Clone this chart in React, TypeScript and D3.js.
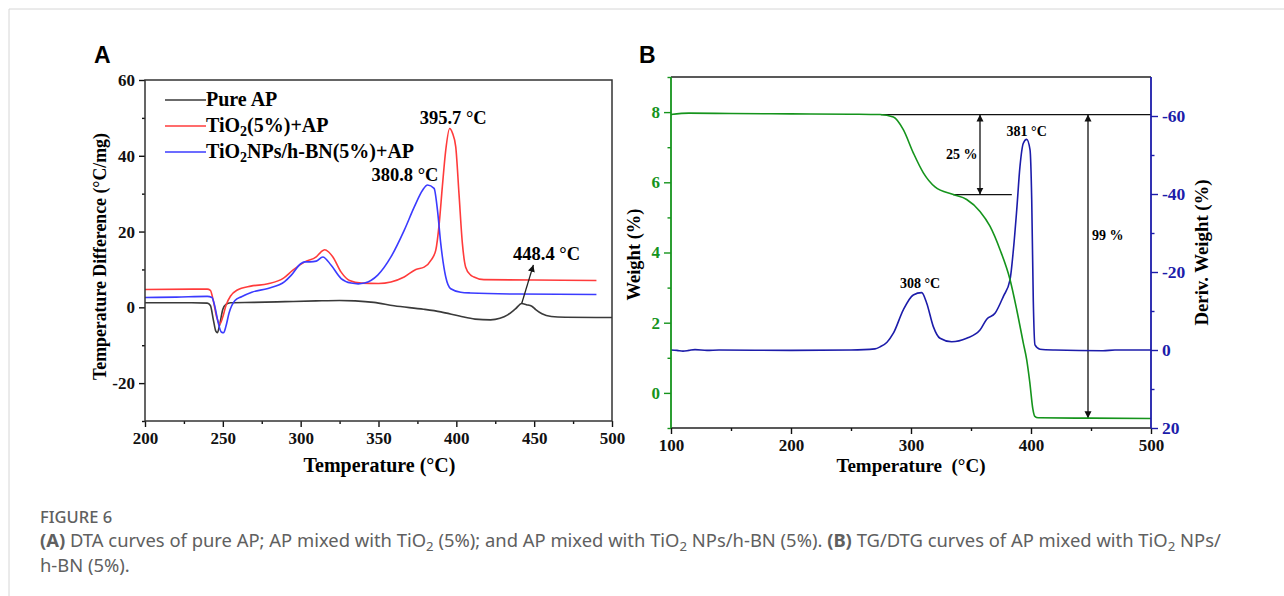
import { useEffect, useRef } from 'react';
import * as d3 from 'd3';

// ---- Panel A: DTA curves (temperature °C, temperature difference °C/mg)
const pureAP: [number, number][] = [
  [200, 1.2], [230, 1.2], [240, 1.1], [242, 0.5], [244, -3.5], [245.5, -6.3], [246.5, -6.7], [248, -4.5],
  [250, -0.5], [252, 0.8], [255, 1.2], [270, 1.3], [290, 1.5], [310, 1.7], [325, 1.8], [335, 1.7],
  [347, 1.3], [360, 0.4], [379, -0.5], [390, -1.2], [402, -2.3], [412, -3.1], [422, -3.3], [428, -2.9],
  [433, -2.0], [438, -0.4], [442, 1.0], [445, 0.7], [448.5, 0.3], [451, -0.6], [455, -1.7], [461, -2.4],
  [470, -2.6], [500, -2.7],
];
const tio2AP: [number, number][] = [
  [200, 4.7], [240, 4.8], [242, 4.5], [244, 1.5], [246, -2.5], [248, -4.4], [250, -2.5], [252, 0.5],
  [255, 3], [259, 4.5], [268, 5.6], [279, 6.2], [289, 7.7], [295, 9.8], [302.6, 12], [310, 13.3],
  [313, 14.6], [315.4, 15.2], [318, 14.6], [320.7, 13.3], [326, 9.3], [331.4, 7.1], [339, 6.4], [350, 6.3],
  [358, 6.7], [366.5, 8], [374, 10], [379.3, 10.6], [384, 12.6], [386.8, 15.1], [389, 22.1], [391, 31.8],
  [393.2, 41.5], [395.7, 47.2], [397.5, 46], [399.6, 42.4], [401.7, 30], [403.9, 16.8], [406, 10.6],
  [409.2, 8.5], [411.3, 8], [417.7, 7.3], [450, 7.2], [490, 7.1],
];
const tio2BnAP: [number, number][] = [
  [200, 2.6], [220, 2.7], [240, 2.9], [243, 2.6], [245, 0], [247, -4], [249, -6.5], [250.5, -6.7],
  [252, -5], [254, -1.5], [257.8, 1.8], [262, 2.8], [268.6, 4.0], [279, 5.0], [289.7, 6.8], [294, 8.5],
  [300, 11.5], [302.6, 12], [306, 12], [310, 12.2], [314.2, 13.3], [319.6, 11.1], [326, 7.6], [332.4, 6.4],
  [337, 6.2], [341, 6.4], [349.5, 8.5], [358, 13.3], [366.5, 20.3], [373, 26.5], [378.3, 30.9],
  [381.5, 32.3], [385.7, 31.4], [387.9, 25.6], [390, 16.8], [393.2, 8], [396.4, 4.9], [402.8, 4],
  [409, 3.8], [440, 3.5], [490, 3.4],
];
const legendA = ['Pure AP', 'TiO|2|(5%)+AP', 'TiO|2|NPs/h-BN(5%)+AP'];
const peakLabelsA = [
  { text: '395.7 °C', t: 398, v: 50.1 },
  { text: '380.8 °C', t: 367, v: 34.9 },
];
const arrowA = { text: '448.4 °C', fromT: 442, fromV: 1.0, toT: 449.5, toV: 11.2, labelT: 458, labelV: 14.2 };
const xTicksA = [200, 250, 300, 350, 400, 450, 500];
const yTicksA = [-20, 0, 20, 40, 60];

// ---- Panel B: TG (weight %) and DTG (deriv. weight %)
const weight: [number, number][] = [
  [100, 7.93], [115, 7.97], [150, 7.96], [200, 7.95], [250, 7.94], [274, 7.93], [285.3, 7.86], [293.6, 7.5],
  [301.9, 6.84], [310.3, 6.27], [320, 5.87], [335.3, 5.65], [346.4, 5.51], [357.5, 5.17], [365.8, 4.75],
  [374.2, 4.08], [382.5, 3.23], [388.1, 2.37], [393.6, 1.42], [396.4, 0.95], [399, 0.3], [401.5, -0.45],
  [403, -0.66], [406, -0.71], [450, -0.72], [500, -0.73],
];
const derivWeight: [number, number][] = [
  [100, 0], [105, 0.1], [110, 0.3], [115, 0.1], [120, -0.1], [130, 0.1], [140, 0], [200, 0.1], [250, 0],
  [270, -0.3], [274.2, -0.8], [280, -2], [285.3, -4.3], [293.6, -10.3], [301.9, -14.1], [308.9, -14.7],
  [313.1, -12], [318.6, -6], [324.2, -3], [333.9, -2.1], [346.4, -3], [357.5, -5.1], [363.1, -7.9],
  [370, -9.4], [376.9, -13.7], [382.5, -18], [385.3, -25.6], [388.1, -35.9], [390.8, -47], [393.6, -53],
  [396.4, -54], [399.2, -51.3], [400.6, -38.5], [401.9, -12.8], [403.3, -1.3], [407.5, -0.2], [420, 0],
  [460, 0.2], [470, 0], [500, 0],
];
const lossArrows = [
  { text: '25 %', t: 357.5, top: 7.93, bottom: 5.65, lineFrom: 335, lineTo: 384, labelT: 342.3, labelW: 6.8 },
  { text: '99 %', t: 447.5, top: 7.93, bottom: -0.72, lineFrom: 447.5, lineTo: 447.5, labelT: 464, labelW: 4.5 },
];
const peakLabelsB = [
  { text: '381 °C', t: 396.4, d: -56.2 },
  { text: '308 °C', t: 307.5, d: -17.3 },
];
const xTicksB = [100, 200, 300, 400, 500];
const yTicksWeight = [0, 2, 4, 6, 8];
const yTicksDeriv = [-60, -40, -20, 0, 20];

const SERIF = "'Liberation Serif', 'Times New Roman', serif";
const C = {
  frame: '#333',
  black: '#3a3a3a',
  red: '#ff3b3b',
  blue: '#3b3bff',
  green: '#15941c',
  navy: '#1c1caa',
  caption: '#606060',
};
const plain = (d: any) => String(d);

function styleAxis(g: any, color: string, size: number) {
  g.select('.domain').remove();
  g.selectAll('line').attr('stroke', color).attr('stroke-width', 1.4);
  g.selectAll('text').attr('fill', color).style('font-family', SERIF)
    .style('font-weight', 'bold').style('font-size', `${size}px`);
}

function addSubText(sel: any, spec: string) {
  // "a|b|c" -> a, subscript b, c
  spec.split('|').forEach((part, i) => {
    const t = sel.append('tspan').text(part);
    if (i % 2 === 1) t.attr('dy', 4).style('font-size', '70%');
    if (i > 0 && i % 2 === 0) t.attr('dy', -4);
  });
}

export default function App() {
  const ref = useRef<SVGSVGElement | null>(null);

  useEffect(() => {
    const svg = d3.select(ref.current);
    svg.selectAll('*').remove();

    const defs = svg.append('defs');
    defs.append('marker').attr('id', 'head').attr('viewBox', '0 0 10 10')
      .attr('refX', 10).attr('refY', 5).attr('markerWidth', 7).attr('markerHeight', 9)
      .attr('markerUnits', 'userSpaceOnUse').attr('orient', 'auto-start-reverse')
      .append('path').attr('d', 'M0,0 L10,5 L0,10 Z').attr('fill', '#111');

    // card border
    svg.append('path').attr('d', 'M9,596 V9 H1284').attr('fill', 'none').attr('stroke', '#d6d6d6');

    // ================= Panel A =================
    const A = { l: 145, r: 612, t: 80, b: 421 };
    const xA = d3.scaleLinear().domain([200, 500]).range([A.l, A.r]);
    const yA = d3.scaleLinear().domain([-30, 60]).range([A.b, A.t]);
    const gA = svg.append('g');

    svg.append('text').attr('x', 94).attr('y', 63).text('A')
      .style('font-family', "'Liberation Sans', Arial, sans-serif").style('font-weight', 'bold').style('font-size', '23px');

    const lineA = d3.line<[number, number]>().x(d => xA(d[0])).y(d => yA(d[1])).curve(d3.curveMonotoneX);
    [[pureAP, C.black], [tio2AP, C.red], [tio2BnAP, C.blue]].forEach(([data, col]) => {
      gA.append('path').datum(data as [number, number][]).attr('d', lineA)
        .attr('fill', 'none').attr('stroke', col as string).attr('stroke-width', 1.6);
    });

    const axBA = gA.append('g').attr('transform', `translate(0,${A.b})`)
      .call(d3.axisBottom(xA).tickValues(xTicksA).tickSize(6).tickPadding(5).tickFormat(plain));
    styleAxis(axBA, '#111', 17);
    const axBAm = gA.append('g').attr('transform', `translate(0,${A.b})`)
      .call(d3.axisBottom(xA).tickValues(d3.range(225, 500, 50)).tickSize(3).tickFormat(() => ''));
    styleAxis(axBAm, '#111', 17);
    const axLA = gA.append('g').attr('transform', `translate(${A.l},0)`)
      .call(d3.axisLeft(yA).tickValues(yTicksA).tickSize(6).tickPadding(4).tickFormat(plain));
    styleAxis(axLA, '#111', 17);
    const axLAm = gA.append('g').attr('transform', `translate(${A.l},0)`)
      .call(d3.axisLeft(yA).tickValues([-30, -10, 10, 30, 50]).tickSize(3).tickFormat(() => ''));
    styleAxis(axLAm, '#111', 17);
    gA.append('rect').attr('x', A.l).attr('y', A.t).attr('width', A.r - A.l).attr('height', A.b - A.t)
      .attr('fill', 'none').attr('stroke', C.frame).attr('stroke-width', 1.5);

    gA.append('text').attr('x', (A.l + A.r) / 2 + 1).attr('y', 472).attr('text-anchor', 'middle')
      .style('font-family', SERIF).style('font-weight', 'bold').style('font-size', '20px')
      .text('Temperature (°C)');
    gA.append('text').attr('transform', `translate(106,${(A.t + A.b) / 2 + 6}) rotate(-90)`)
      .attr('text-anchor', 'middle')
      .style('font-family', SERIF).style('font-weight', 'bold').style('font-size', '17.8px')
      .text('Temperature Difference (°C/mg)');

    // legend
    const legCols = [C.black, C.red, C.blue];
    legendA.forEach((label, i) => {
      const yy = 100 + i * 26;
      gA.append('line').attr('x1', 165).attr('x2', 206).attr('y1', yy).attr('y2', yy)
        .attr('stroke', legCols[i]).attr('stroke-width', 1.6);
      const t = gA.append('text').attr('x', 206).attr('y', yy + 6)
        .style('font-family', SERIF).style('font-weight', 'bold').style('font-size', '20px');
      addSubText(t, label);
    });

    peakLabelsA.forEach(p => {
      gA.append('text').attr('x', xA(p.t)).attr('y', yA(p.v) + 6).attr('text-anchor', 'middle')
        .style('font-family', SERIF).style('font-weight', 'bold').style('font-size', '18.5px').text(p.text);
    });
    gA.append('line').attr('x1', xA(arrowA.fromT)).attr('y1', yA(arrowA.fromV))
      .attr('x2', xA(arrowA.toT)).attr('y2', yA(arrowA.toV))
      .attr('stroke', '#222').attr('stroke-width', 1.3).attr('marker-end', 'url(#head)');
    gA.append('text').attr('x', xA(arrowA.labelT)).attr('y', yA(arrowA.labelV) + 6).attr('text-anchor', 'middle')
      .style('font-family', SERIF).style('font-weight', 'bold').style('font-size', '18.5px').text(arrowA.text);

    // ================= Panel B =================
    const B = { l: 671, r: 1151, t: 77, b: 428 };
    const xB = d3.scaleLinear().domain([100, 500]).range([B.l, B.r]);
    const yW = d3.scaleLinear().domain([-1, 9]).range([B.b, B.t]);
    const yD = d3.scaleLinear().domain([20, -70]).range([B.b, B.t]);
    const gB = svg.append('g');

    svg.append('text').attr('x', 639).attr('y', 63).text('B')
      .style('font-family', "'Liberation Sans', Arial, sans-serif").style('font-weight', 'bold').style('font-size', '23px');

    // reference lines + arrows
    gB.append('line').attr('x1', xB(275)).attr('x2', B.r).attr('y1', yW(7.93)).attr('y2', yW(7.93))
      .attr('stroke', '#111').attr('stroke-width', 1.3);
    lossArrows.forEach(a => {
      if (a.lineTo > a.lineFrom) {
        gB.append('line').attr('x1', xB(a.lineFrom)).attr('x2', xB(a.lineTo))
          .attr('y1', yW(a.bottom)).attr('y2', yW(a.bottom)).attr('stroke', '#111').attr('stroke-width', 1.3);
      }
      gB.append('line').attr('x1', xB(a.t)).attr('x2', xB(a.t)).attr('y1', yW(a.top)).attr('y2', yW(a.bottom))
        .attr('stroke', '#111').attr('stroke-width', 1.3)
        .attr('marker-start', 'url(#head)').attr('marker-end', 'url(#head)');
      gB.append('text').attr('x', xB(a.labelT)).attr('y', yW(a.labelW) + 5).attr('text-anchor', 'middle')
        .style('font-family', SERIF).style('font-weight', 'bold').style('font-size', '14px').text(a.text);
    });

    const lineW = d3.line<[number, number]>().x(d => xB(d[0])).y(d => yW(d[1])).curve(d3.curveMonotoneX);
    const lineD = d3.line<[number, number]>().x(d => xB(d[0])).y(d => yD(d[1])).curve(d3.curveMonotoneX);
    gB.append('path').datum(derivWeight).attr('d', lineD).attr('fill', 'none')
      .attr('stroke', C.navy).attr('stroke-width', 1.6);
    gB.append('path').datum(weight).attr('d', lineW).attr('fill', 'none')
      .attr('stroke', C.green).attr('stroke-width', 1.6);

    peakLabelsB.forEach(p => {
      gB.append('text').attr('x', xB(p.t)).attr('y', yD(p.d) + 5).attr('text-anchor', 'middle')
        .style('font-family', SERIF).style('font-weight', 'bold').style('font-size', '14px').text(p.text);
    });

    // frame: top & bottom black, left green, right navy
    gB.append('line').attr('x1', B.l).attr('x2', B.r).attr('y1', B.t).attr('y2', B.t).attr('stroke', '#222').attr('stroke-width', 1.5);
    gB.append('line').attr('x1', B.l).attr('x2', B.r).attr('y1', B.b).attr('y2', B.b).attr('stroke', '#222').attr('stroke-width', 1.5);
    gB.append('line').attr('x1', B.l).attr('x2', B.l).attr('y1', B.t).attr('y2', B.b).attr('stroke', C.green).attr('stroke-width', 1.8);
    gB.append('line').attr('x1', B.r).attr('x2', B.r).attr('y1', B.t).attr('y2', B.b).attr('stroke', C.navy).attr('stroke-width', 1.8);

    const axBB = gB.append('g').attr('transform', `translate(0,${B.b})`)
      .call(d3.axisBottom(xB).tickValues(xTicksB).tickSize(6).tickPadding(5).tickFormat(plain));
    styleAxis(axBB, '#111', 17);
    const axBBm = gB.append('g').attr('transform', `translate(0,${B.b})`)
      .call(d3.axisBottom(xB).tickValues([150, 250, 350, 450]).tickSize(3).tickFormat(() => ''));
    styleAxis(axBBm, '#111', 17);
    const axW = gB.append('g').attr('transform', `translate(${B.l},0)`)
      .call(d3.axisLeft(yW).tickValues(yTicksWeight).tickSize(7).tickPadding(4).tickFormat(plain));
    styleAxis(axW, C.green, 17);
    const axWm = gB.append('g').attr('transform', `translate(${B.l},0)`)
      .call(d3.axisLeft(yW).tickValues([-1, 1, 3, 5, 7, 9]).tickSize(3.5).tickFormat(() => ''));
    styleAxis(axWm, C.green, 17);
    const axD = gB.append('g').attr('transform', `translate(${B.r},0)`)
      .call(d3.axisRight(yD).tickValues(yTicksDeriv).tickSize(7).tickPadding(4).tickFormat(plain));
    styleAxis(axD, C.navy, 17.5);
    const axDm = gB.append('g').attr('transform', `translate(${B.r},0)`)
      .call(d3.axisRight(yD).tickValues([-50, -30, -10, 10]).tickSize(3.5).tickFormat(() => ''));
    styleAxis(axDm, C.navy, 17.5);

    gB.append('text').attr('x', 911).attr('y', 472).attr('text-anchor', 'middle')
      .style('font-family', SERIF).style('font-weight', 'bold').style('font-size', '19px')
      .style('white-space', 'pre').text('Temperature  (°C)');
    gB.append('text').attr('transform', `translate(640,${(B.t + B.b) / 2 + 2}) rotate(-90)`)
      .attr('text-anchor', 'middle')
      .style('font-family', SERIF).style('font-weight', 'bold').style('font-size', '18.5px')
      .text('Weight (%)');
    gB.append('text').attr('transform', `translate(1208,${(B.t + B.b) / 2}) rotate(-90)`)
      .attr('text-anchor', 'middle')
      .style('font-family', SERIF).style('font-weight', 'bold').style('font-size', '18.8px')
      .text('Deriv. Weight (%)');

    // ================= Caption =================
    const cap = svg.append('g').style('font-family', "'Noto Sans', 'Open Sans', sans-serif").attr('fill', C.caption);
    cap.append('text').attr('x', 40).attr('y', 523).style('font-size', '16.5px').style('font-weight', 500).text('FIGURE 6');
    const l2 = cap.append('text').attr('x', 40).attr('y', 547).style('font-size', '18.4px');
    const seg = (el: any, s: string, bold = false, dy = 0) => {
      const t = el.append('tspan').text(s);
      if (bold) t.style('font-weight', 'bold');
      if (dy) t.attr('dy', dy);
    };
    const sub = (el: any) => { el.append('tspan').attr('dy', 4).style('font-size', '72%').text('2'); };
    seg(l2, '(A)', true);
    seg(l2, ' DTA curves of pure AP; AP mixed with TiO');
    sub(l2);
    seg(l2, ' (5%); and AP mixed with TiO', false, -4);
    sub(l2);
    seg(l2, ' NPs/h-BN (5%). ', false, -4);
    seg(l2, '(B)', true);
    seg(l2, ' TG/DTG curves of AP mixed with TiO');
    sub(l2);
    seg(l2, ' NPs/', false, -4);
    cap.append('text').attr('x', 40).attr('y', 572).style('font-size', '18.4px').text('h-BN (5%).');
  }, []);

  return (
    <svg ref={ref} width={1284} height={596}
      style={{ position: 'absolute', left: 0, top: 0, background: '#fff' }} />
  );
}
